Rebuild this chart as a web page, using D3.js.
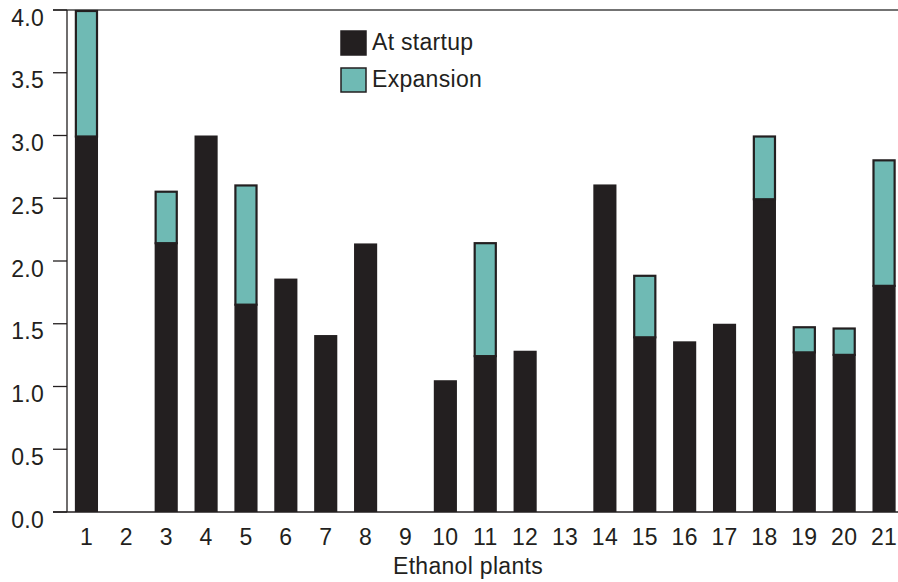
<!DOCTYPE html>
<html><head><meta charset="utf-8">
<script src="https://cdn.jsdelivr.net/npm/d3@7"></script>
<style>body{margin:0;background:#fff}svg{display:block}text{font-family:"Liberation Sans",Arial,sans-serif;fill:#231f20;letter-spacing:0.3px}</style>
</head><body>
<svg id="c" width="898" height="582"></svg>
<script>
const plants = ["1","2","3","4","5","6","7","8","9","10","11","12","13","14","15","16","17","18","19","20","21"];
const atStartup = [3.0,0,2.15,3.0,1.66,1.86,1.41,2.14,0,1.05,1.25,1.285,0,2.61,1.40,1.36,1.50,2.50,1.28,1.26,1.81];
const expansion = [1.0,0,0.41,0,0.95,0,0,0,0,0,0.90,0,0,0,0.49,0,0,0.50,0.20,0.21,1.00];
const yTicks = [0,0.5,1.0,1.5,2.0,2.5,3.0,3.5,4.0];
const seriesNames = ["At startup","Expansion"];
const colors = ["#231f20","#6fbab4"];

const svg = d3.select("#c");
const x = d3.scaleBand().domain(plants).range([66.5,904]).paddingInner(0.42).paddingOuter(0.21);
const y = d3.scaleLinear().domain([0,4]).range([512,10]);

// axes lines
svg.append("line").attr("x1",53).attr("x2",898).attr("y1",y(4)).attr("y2",y(4)).attr("stroke","#444").attr("stroke-width",1.3);
svg.append("line").attr("x1",53).attr("x2",898).attr("y1",y(0)).attr("y2",y(0)).attr("stroke","#231f20").attr("stroke-width",1.3);
svg.append("line").attr("x1",67).attr("x2",67).attr("y1",y(4)).attr("y2",y(0)).attr("stroke","#231f20").attr("stroke-width",1.3);

const yt = svg.append("g");
yt.selectAll("line").data(yTicks).join("line")
  .attr("x1",53).attr("x2",67).attr("y1",d=>y(d)).attr("y2",d=>y(d))
  .attr("stroke","#231f20").attr("stroke-width",1.3);
yt.selectAll("text").data(yTicks).join("text")
  .attr("x",44).attr("y",d=>y(d)+15.5).attr("text-anchor","end")
  .attr("font-size",23).text(d=>d.toFixed(1));

// bars
const data = plants.map((p,i)=>({p,s:atStartup[i],e:expansion[i]}));
svg.append("g").selectAll("rect").data(data.filter(d=>d.s>0)).join("rect")
  .attr("x",d=>x(d.p)).attr("width",x.bandwidth())
  .attr("y",d=>y(d.s)).attr("height",d=>y(0)-y(d.s))
  .attr("fill",colors[0]);
svg.append("g").selectAll("rect").data(data.filter(d=>d.e>0)).join("rect")
  .attr("x",d=>x(d.p)+1).attr("width",x.bandwidth()-2)
  .attr("y",d=>y(d.s+d.e)+1).attr("height",d=>y(d.s)-y(d.s+d.e))
  .attr("fill",colors[1]).attr("stroke",colors[0]).attr("stroke-width",2.2);

// x labels
svg.append("g").selectAll("text").data(plants).join("text")
  .attr("x",d=>x(d)+x.bandwidth()/2).attr("y",545).attr("text-anchor","middle")
  .attr("font-size",23).text(d=>d);
svg.append("text").attr("x",468).attr("y",574).attr("text-anchor","middle").attr("font-size",23).text("Ethanol plants");

// legend
const lg = svg.append("g");
seriesNames.forEach((n,i)=>{
  lg.append("rect").attr("x",341).attr("y",31+i*37).attr("width",25).attr("height",24)
    .attr("fill",colors[i]).attr("stroke",colors[0]).attr("stroke-width",1.5);
  lg.append("text").attr("x",372).attr("y",49.5+i*37).attr("font-size",23).text(n);
});
</script>
</body></html>
